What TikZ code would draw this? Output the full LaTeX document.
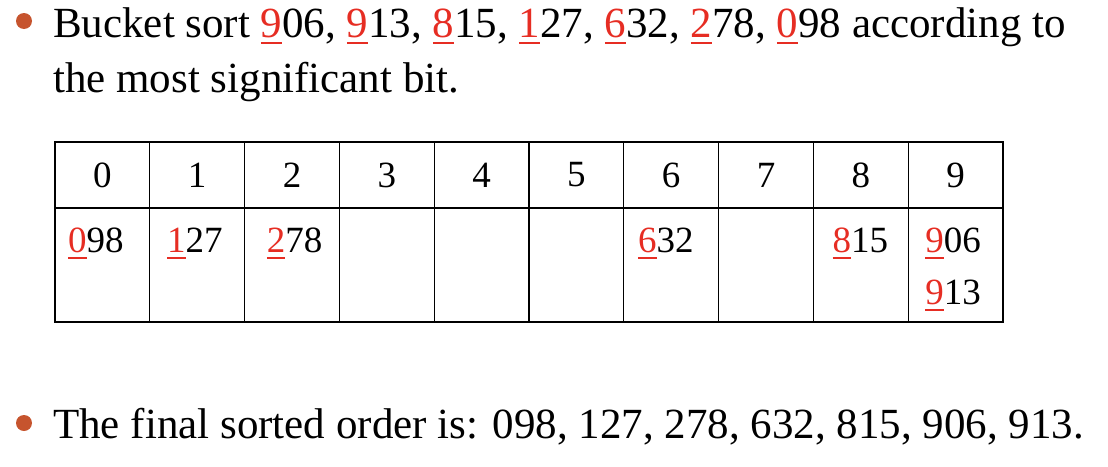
\documentclass[tikz,border=0pt]{standalone}
\usepackage{fontspec}
\setmainfont{Liberation Serif}
\usetikzlibrary{positioning}
\definecolor{msdred}{RGB}{230,45,35}
\definecolor{dotorange}{RGB}{198,84,46}
\newcommand{\msd}[2]{{\color{msdred}\setbox0\hbox{#1}\rlap{\rule[-6.5pt]{\wd0}{1.8pt}}\box0}#2}

\begin{document}
\begin{tikzpicture}[x=1pt,y=-1pt,
                    headcell/.style={draw,line width=1.3pt,inner sep=0pt,outer sep=0pt,
                      minimum width=94.8pt,minimum height=66pt,font=\fontsize{37}{44}\selectfont},
                    bucket/.style={draw,line width=1.3pt,inner sep=0pt,outer sep=0pt,
                      minimum width=94.8pt,minimum height=114pt},
                    entry/.style={anchor=base west,inner sep=0pt,font=\fontsize{37}{44}\selectfont},
                    bulletdot/.style={circle,fill=dotorange,inner sep=0pt,minimum size=16pt},
                    bullettext/.style={anchor=base west,inner sep=0pt,font=\fontsize{43}{55}\selectfont}]

  \useasboundingbox (0,0) rectangle (1108,466);

  % first bullet
  \node[bulletdot] (d1) at (24,21) {};
  \node[bullettext] (t1) at (53,37)
    {Bucket sort \msd{9}{06}, \msd{9}{13}, \msd{8}{15}, \msd{1}{27}, \msd{6}{32}, \msd{2}{78}, \msd{0}{98} according to};
  \node[bullettext] (t1b) at (53,92) {the most significant bit.};

  % buckets
  \foreach \i in {0,...,9} {
    \node[headcell] (h\i) at ({102.4+94.8*\i},175) {\i};
    \node[bucket]   (b\i) at ({102.4+94.8*\i},265) {};
  }

  \foreach \c/\d/\r/\dx in {0/0/98/13, 1/1/27/17, 2/2/78/22, 6/6/32/14, 8/8/15/19, 9/9/06/17}
    \node[entry] (e\c) at ([xshift=\dx pt,yshift=-44pt]b\c.north west) {\msd{\d}{\r}};
  \node[entry] (e9b) at ([yshift=-52pt]e9.base west) {\msd{9}{13}};

  % second bullet
  \node[bulletdot] (d2) at (24,423) {};
  \node[bullettext] (t2) at (53,438)
    {The final sorted order is: 098, 127, 278, 632, 815, 906, 913.};

\end{tikzpicture}
\end{document}
